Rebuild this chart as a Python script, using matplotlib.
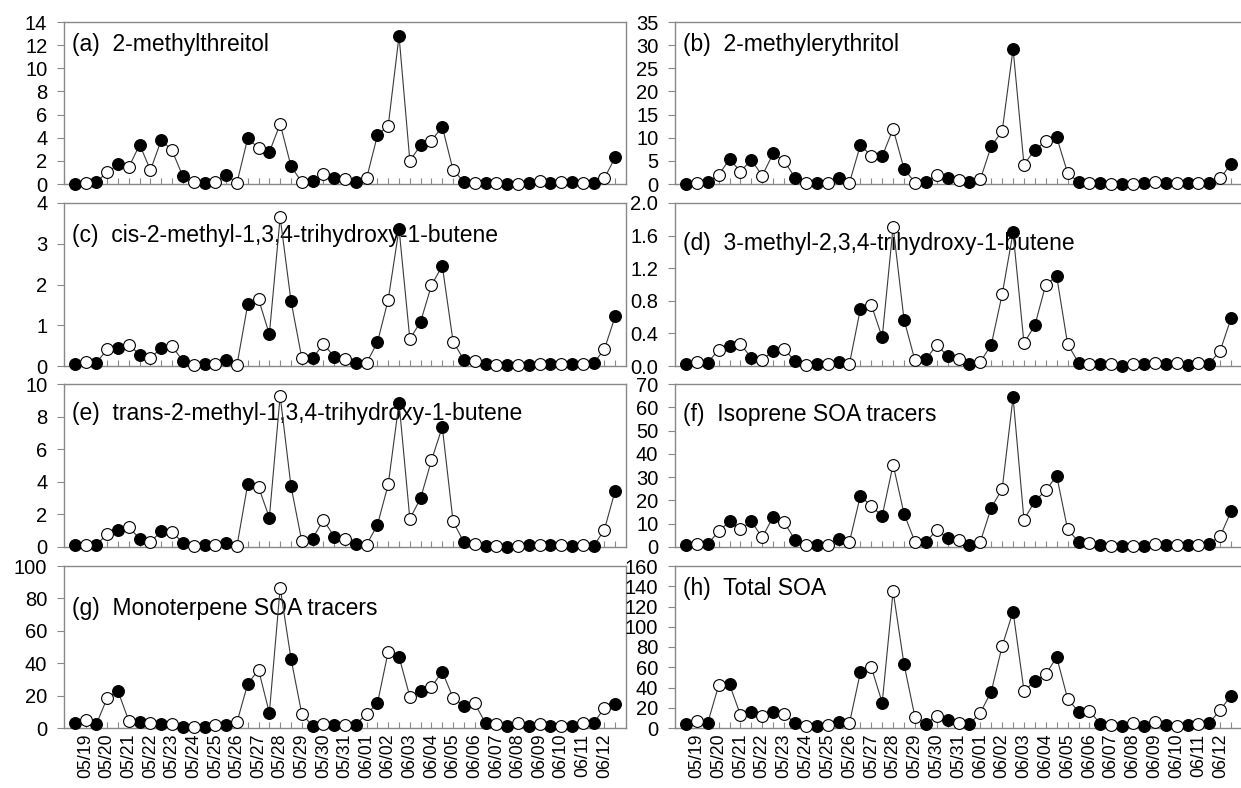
import numpy as np
import matplotlib
matplotlib.use('Agg')
import matplotlib.pyplot as plt
from matplotlib.ticker import FormatStrFormatter

plt.rcParams['font.family'] = ['Liberation Sans', 'DejaVu Sans']

dates = ['05/19', '05/20', '05/21', '05/22', '05/23', '05/24', '05/25', '05/26',
         '05/27', '05/28', '05/29', '05/30', '05/31', '06/01', '06/02', '06/03',
         '06/04', '06/05', '06/06', '06/07', '06/08', '06/09', '06/10', '06/11', '06/12']

# 51 samples each, alternating filled / open markers (filled first)
methylthreitol = [0.0, 0.1, 0.2, 1.0, 1.7, 1.45, 3.4, 1.2, 3.8, 2.9,
                  0.65, 0.2, 0.1, 0.2, 0.8, 0.1, 3.95, 3.1, 2.75, 5.2,
                  1.55, 0.15, 0.25, 0.85, 0.55, 0.45, 0.2, 0.5, 4.2, 5.05,
                  12.8, 2.0, 3.35, 3.75, 4.95, 1.2, 0.2, 0.1, 0.1, 0.05,
                  0.0, 0.0, 0.05, 0.3, 0.1, 0.2, 0.2, 0.1, 0.1, 0.5, 2.3]
methylerythritol = [0.1, 0.3, 0.5, 1.9, 5.4, 2.7, 5.2, 1.8, 6.6, 5.0,
                    1.4, 0.2, 0.2, 0.3, 1.4, 0.3, 8.4, 6.1, 6.0, 11.9,
                    3.3, 0.3, 0.5, 1.9, 1.2, 0.9, 0.4, 1.0, 8.2, 11.4,
                    29.2, 4.2, 7.4, 9.2, 10.1, 2.4, 0.4, 0.3, 0.3, 0.1,
                    0.1, 0.1, 0.2, 0.4, 0.3, 0.3, 0.3, 0.3, 0.3, 1.2, 4.4]
cis_butene = [0.05, 0.1, 0.08, 0.41, 0.45, 0.52, 0.28, 0.19, 0.45, 0.49,
              0.12, 0.03, 0.05, 0.05, 0.14, 0.02, 1.51, 1.64, 0.78, 3.65,
              1.6, 0.2, 0.19, 0.54, 0.23, 0.17, 0.08, 0.08, 0.58, 1.63,
              3.37, 0.66, 1.09, 1.98, 2.46, 0.6, 0.15, 0.12, 0.05, 0.02,
              0.02, 0.03, 0.03, 0.06, 0.05, 0.05, 0.04, 0.05, 0.07, 0.41, 1.22]
methyl_butene = [0.02, 0.05, 0.04, 0.2, 0.25, 0.27, 0.1, 0.07, 0.19, 0.21,
                 0.06, 0.01, 0.02, 0.03, 0.05, 0.03, 0.7, 0.75, 0.35, 1.71,
                 0.57, 0.07, 0.08, 0.26, 0.12, 0.08, 0.03, 0.05, 0.26, 0.88,
                 1.64, 0.28, 0.5, 1.0, 1.1, 0.27, 0.04, 0.03, 0.03, 0.02,
                 0.0, 0.02, 0.02, 0.04, 0.03, 0.04, 0.01, 0.04, 0.03, 0.19, 0.59]
trans_butene = [0.1, 0.15, 0.15, 0.78, 1.05, 1.2, 0.52, 0.3, 0.98, 0.93,
                0.25, 0.08, 0.1, 0.1, 0.27, 0.05, 3.85, 3.68, 1.8, 9.28,
                3.74, 0.36, 0.51, 1.67, 0.64, 0.49, 0.2, 0.15, 1.35, 3.84,
                8.85, 1.73, 3.0, 5.32, 7.36, 1.57, 0.29, 0.2, 0.05, 0.05,
                0.03, 0.05, 0.1, 0.15, 0.1, 0.1, 0.05, 0.1, 0.05, 1.06, 3.46]
isoprene_soa = [0.7, 1.4, 1.3, 6.7, 11.0, 7.6, 11.0, 4.1, 13.0, 10.7,
                3.1, 0.7, 0.8, 1.0, 3.4, 2.3, 22.0, 17.5, 13.4, 35.4,
                14.3, 2.3, 2.1, 7.3, 3.9, 2.9, 1.0, 2.3, 16.9, 24.9,
                64.3, 11.7, 19.7, 24.3, 30.6, 7.6, 2.3, 1.9, 1.0, 0.5,
                0.3, 0.5, 0.6, 1.1, 0.8, 1.0, 0.7, 0.9, 1.5, 4.7, 15.4]
monoterpene_soa = [2.8, 4.7, 2.4, 18.6, 22.7, 4.3, 3.5, 2.9, 2.2, 2.2,
                   0.9, 0.7, 0.5, 1.6, 2.0, 3.5, 27.2, 36.0, 9.3, 86.5,
                   42.9, 8.8, 1.2, 2.7, 2.0, 1.8, 2.0, 8.8, 15.2, 47.2,
                   43.9, 19.4, 23.0, 25.3, 34.8, 18.6, 13.6, 15.2, 3.0, 2.7,
                   1.0, 2.9, 1.0, 2.2, 1.0, 1.2, 1.0, 3.2, 2.9, 12.4, 15.1]
total_soa = [4, 7, 5, 42, 43, 13, 16, 12, 16, 14,
             5, 2, 2, 3, 6, 5, 55, 60, 25, 135,
             63, 11, 4, 12, 8, 5, 4, 15, 36, 81,
             115, 37, 46, 53, 70, 29, 16, 17, 4, 3,
             2, 5, 2, 6, 3, 2, 3, 4, 5, 18, 32]

panels = [
    ('(a)  2-methylthreitol', methylthreitol, 14, 2, 0.86),
    ('(b)  2-methylerythritol', methylerythritol, 35, 5, 0.86),
    ('(c)  cis-2-methyl-1,3,4-trihydroxy-1-butene', cis_butene, 4, 1, 0.80),
    ('(d)  3-methyl-2,3,4-trihydroxy-1-butene', methyl_butene, 2.0, 0.4, 0.75),
    ('(e)  trans-2-methyl-1,3,4-trihydroxy-1-butene', trans_butene, 10, 2, 0.82),
    ('(f)  Isoprene SOA tracers', isoprene_soa, 70, 10, 0.81),
    ('(g)  Monoterpene SOA tracers', monoterpene_soa, 100, 20, 0.74),
    ('(h)  Total SOA', total_soa, 160, 20, 0.86),
]

W, H = 1241, 788
fig = plt.figure(figsize=(W / 100, H / 100), dpi=100)

row_px = [(22, 184), (203, 366), (384, 547), (566, 728)]
col_px = [(64, 626), (675, 1241)]
spine_col = '#888888'

for i, (label, values, ymax, ystep, ty) in enumerate(panels):
    row, col = divmod(i, 2)
    top, bot = row_px[row]
    left, right = col_px[col]
    ax = fig.add_axes([left / W, 1 - bot / H, (right - left) / W, (bot - top) / H])

    y = np.array(values, dtype=float)
    x = np.arange(len(y))
    ax.plot(x, y, color='#3a3a3a', lw=0.8, zorder=2, clip_on=False)
    ax.plot(x[0::2], y[0::2], 'o', ms=8.5, mfc='black', mec='black', mew=0.8,
            zorder=3, clip_on=False)
    ax.plot(x[1::2], y[1::2], 'o', ms=8.5, mfc='white', mec='black', mew=0.8,
            zorder=3, clip_on=False)

    ax.set_ylim(0, ymax)
    ax.set_yticks(np.arange(0, ymax + ystep / 2, ystep))
    if ystep < 1:
        ax.yaxis.set_major_formatter(FormatStrFormatter('%.1f'))
    if col == 0:
        ax.set_xlim(-1, 51)
    else:
        ax.set_xlim(-1, 50.9)
        ax.spines['right'].set_visible(False)

    ax.set_xticks(x)
    if row == 3:
        ax.set_xticklabels([dates[k // 2] if k % 2 == 1 else '' for k in x],
                           rotation=90, fontsize=12.8)
    else:
        ax.set_xticklabels([])

    ax.tick_params(axis='x', direction='in', length=4, width=0.8,
                   color=spine_col, pad=4)
    ax.tick_params(axis='y', direction='out', length=5, width=0.8,
                   color=spine_col, labelsize=14.5, pad=7)
    for s in ax.spines.values():
        s.set_color(spine_col)
        s.set_linewidth(1.0)

    ax.text(0.015, ty, label, transform=ax.transAxes, fontsize=16.5,
            va='center', ha='left', zorder=1)

fig.savefig('out.png', dpi=100)
